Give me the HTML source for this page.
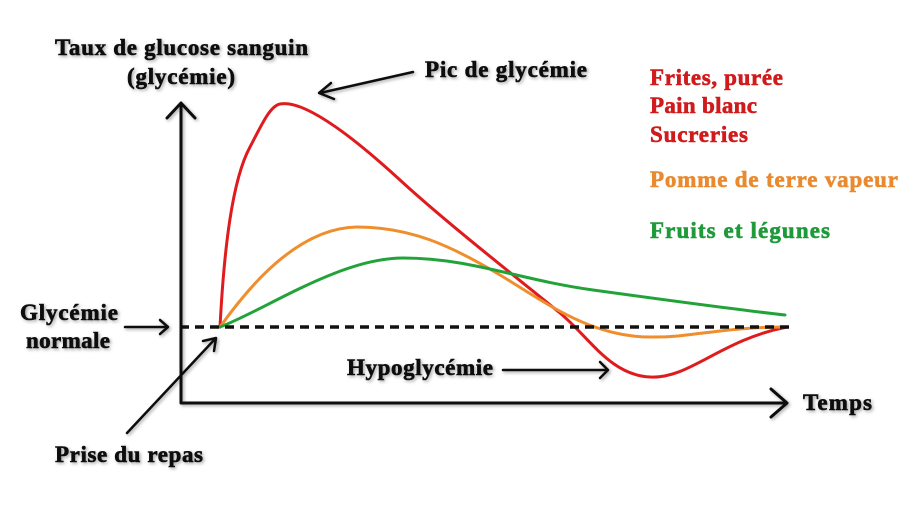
<!DOCTYPE html>
<html>
<head>
<meta charset="utf-8">
<style>
  html,body{margin:0;padding:0;background:#fff;}
  svg{display:block;}
  text{font-family:"Liberation Serif","Times New Roman",serif;font-weight:bold;font-size:23px;stroke-width:0.6;}
</style>
</head>
<body>
<svg width="921" height="505" viewBox="0 0 921 505" xmlns="http://www.w3.org/2000/svg">
  <defs>
    <filter id="sh" x="-10%" y="-30%" width="130%" height="180%">
      <feDropShadow dx="1.5" dy="1.5" stdDeviation="1.5" flood-color="#000" flood-opacity="0.35"/>
    </filter>
  </defs>
  <rect width="921" height="505" fill="#fff"/>

  <!-- curves -->
  <g fill="none" stroke-width="3" stroke-linecap="round" stroke-linejoin="round">
    <path d="M220,327 C224,250 232,180 250,147 C262,124 270,106 280,104 C300,100 340,125 400,180 C450,226 530,288 560,313 C590,338 610,375 650,377 C690,379 720,340 787,327" stroke="#e01b1e"/>
    <path d="M220,327 C245,292 295,228 357,227 C410,227 450,245 500,275 C545,302 590,337 650,337 C690,338 720,327 787,327" stroke="#ef8e2c"/>
    <path d="M220,327 C265,310 340,258 403,258 C470,258 520,280 593,290 C680,302 740,310 785,315" stroke="#22a33a"/>
  </g>

  <!-- dashed normal line -->
  <line x1="180" y1="327" x2="790" y2="327" stroke="#111" stroke-width="3.5" stroke-dasharray="9 6"/>

  <g filter="url(#sh)" stroke="#111" fill="none" stroke-width="3" stroke-linecap="round" stroke-linejoin="round">
    <!-- axes -->
    <polyline points="181,104 181,403 786,403"/>
    <polyline points="167,118 181,103 195,118"/>
    <polyline points="771,389 787,403 771,417"/>
    <!-- arrows -->
    <g stroke-width="2.5">
      <line x1="413" y1="72" x2="320" y2="93"/>
      <polyline points="331,83 319,93 334,99"/>
      <line x1="125" y1="327" x2="167" y2="327"/>
      <polyline points="160,320 168,327 160,334"/>
      <line x1="503" y1="370" x2="607" y2="370"/>
      <polyline points="600,362 608,370 600,378"/>
      <line x1="127" y1="433" x2="215" y2="339"/>
      <polyline points="203,341 216,338 214,351"/>
    </g>
  </g>

  <!-- black labels -->
  <g fill="#111" stroke="#111" filter="url(#sh)">
    <text x="55" y="55" textLength="253" lengthAdjust="spacing">Taux de glucose sanguin</text>
    <text x="127" y="84" textLength="108" lengthAdjust="spacing">(glycémie)</text>
    <text x="425" y="77" textLength="162" lengthAdjust="spacing">Pic de glycémie</text>
    <text x="20" y="320" textLength="98" lengthAdjust="spacing">Glycémie</text>
    <text x="26" y="348" textLength="84" lengthAdjust="spacing">normale</text>
    <text x="347" y="375" textLength="146" lengthAdjust="spacing">Hypoglycémie</text>
    <text x="803" y="410" textLength="69" lengthAdjust="spacing">Temps</text>
    <text x="55" y="462" textLength="148" lengthAdjust="spacing">Prise du repas</text>
  </g>

  <!-- legend -->
  <g>
    <text x="650" y="85" textLength="133" lengthAdjust="spacing" fill="#d01a1c" stroke="#d01a1c">Frites, purée</text>
    <text x="650" y="113" textLength="107" lengthAdjust="spacing" fill="#d01a1c" stroke="#d01a1c">Pain blanc</text>
    <text x="650" y="142" textLength="98" lengthAdjust="spacing" fill="#d01a1c" stroke="#d01a1c">Sucreries</text>
    <text x="650" y="187" textLength="248" lengthAdjust="spacing" fill="#e98a2e" stroke="#e98a2e">Pomme de terre vapeur</text>
    <text x="650" y="238" textLength="180" lengthAdjust="spacing" fill="#1f9a3a" stroke="#1f9a3a">Fruits et légunes</text>
  </g>
</svg>
</body>
</html>
